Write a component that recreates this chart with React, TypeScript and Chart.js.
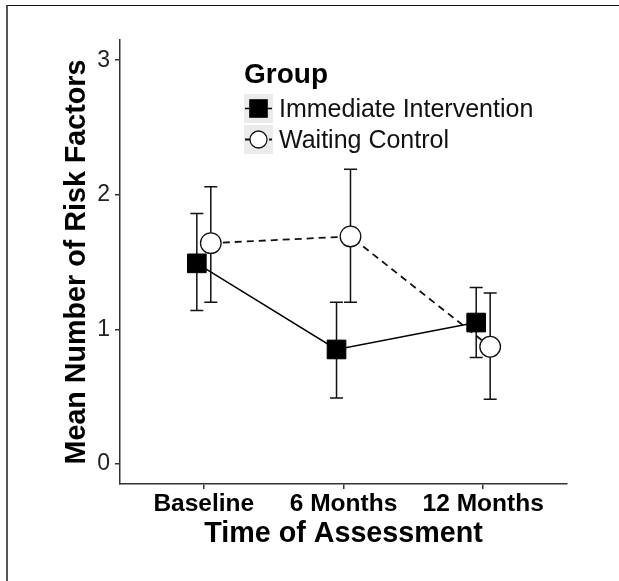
import React, { useEffect, useRef } from "react";
import { Chart, registerables } from "chart.js";

Chart.register(...registerables);

// ---- data ----
const timePoints = ["Baseline", "6 Months", "12 Months"];
const yTickValues = [0, 1, 2, 3];
const groupLabels = ["Immediate Intervention", "Waiting Control"];
const immediateMean = [1.49, 0.85, 1.05];
const immediateLower = [1.14, 0.49, 0.79];
const immediateUpper = [1.86, 1.2, 1.31];
const waitingMean = [1.64, 1.69, 0.87];
const waitingLower = [1.2, 1.2, 0.48];
const waitingUpper = [2.06, 2.19, 1.27];
const legendTitle = "Group";
const xTitle = "Time of Assessment";
const yTitle = "Mean Number of Risk Factors";
const dodge = 0.05;

const FONT = "'Liberation Sans', Arial, Helvetica, sans-serif";

const errorBarPlugin = {
  id: "errorBars",
  beforeDatasetsDraw(chart: any) {
    const ctx = chart.ctx;
    const xs = chart.scales.x;
    const ys = chart.scales.y;
    ctx.save();
    chart.data.datasets.forEach((ds: any) => {
      ctx.strokeStyle = "#111";
      ctx.lineWidth = 1.5;
      ds.data.forEach((pt: any, i: number) => {
        const px = xs.getPixelForValue(pt.x);
        const pLo = ys.getPixelForValue(ds.lower[i]);
        const pHi = ys.getPixelForValue(ds.upper[i]);
        const cap = 6.5;
        ctx.beginPath();
        ctx.moveTo(px, pLo);
        ctx.lineTo(px, pHi);
        ctx.moveTo(px - cap, pLo);
        ctx.lineTo(px + cap, pLo);
        ctx.moveTo(px - cap, pHi);
        ctx.lineTo(px + cap, pHi);
        ctx.stroke();
      });
    });
    ctx.restore();
  },
};

const legendPlugin = {
  id: "customLegend",
  afterDraw(chart: any) {
    const ctx = chart.ctx;
    ctx.save();
    ctx.fillStyle = "#000";
    ctx.font = `bold 28px ${FONT}`;
    ctx.textBaseline = "alphabetic";
    ctx.textAlign = "left";
    ctx.fillText(legendTitle, 244, 83);
    const boxX = 244;
    const boxSize = 29;
    chart.data.datasets.forEach((ds: any, i: number) => {
      const boxY = 94 + i * 31;
      const cx = boxX + boxSize / 2;
      const cy = boxY + boxSize / 2;
      ctx.fillStyle = "#ebebeb";
      ctx.fillRect(boxX, boxY, boxSize, boxSize);
      // line key
      ctx.strokeStyle = ds.borderColor;
      ctx.lineWidth = ds.borderWidth;
      ctx.setLineDash(ds.borderDash || []);
      ctx.beginPath();
      ctx.moveTo(boxX + 1, cy);
      ctx.lineTo(boxX + boxSize - 1, cy);
      ctx.stroke();
      ctx.setLineDash([]);
      // marker
      ctx.fillStyle = ds.pointBackgroundColor;
      ctx.strokeStyle = ds.pointBorderColor;
      ctx.lineWidth = ds.pointBorderWidth;
      if (ds.pointStyle === "rect") {
        const s = 17.5;
        ctx.fillRect(cx - s / 2, cy - s / 2, s, s);
        ctx.strokeRect(cx - s / 2, cy - s / 2, s, s);
      } else {
        ctx.beginPath();
        ctx.arc(cx, cy, 8.5, 0, Math.PI * 2);
        ctx.fill();
        ctx.stroke();
      }
      ctx.fillStyle = "#111";
      ctx.font = `25px ${FONT}`;
      ctx.fillText(ds.label, 279, cy + 8.8);
    });
    ctx.restore();
  },
};

export default function App() {
  const ref = useRef<HTMLCanvasElement | null>(null);

  useEffect(() => {
    if (!ref.current) return;
    const gridOpts = {
      display: true,
      drawOnChartArea: false,
      drawTicks: true,
      tickLength: 5,
      color: "#333",
      lineWidth: 1.5,
    };
    const borderOpts = { display: true, color: "#333", width: 1.5 };
    const chart = new Chart(ref.current, {
      type: "line",
      data: {
        datasets: [
          {
            label: groupLabels[0],
            data: immediateMean.map((y, i) => ({ x: i + 1 - dodge, y })),
            lower: immediateLower,
            upper: immediateUpper,
            borderColor: "#000",
            backgroundColor: "#000",
            borderWidth: 1.5,
            pointStyle: "rect",
            pointRadius: 13.2,
            pointBackgroundColor: "#000",
            pointBorderColor: "#000",
            pointBorderWidth: 1,
            tension: 0,
            fill: false,
          } as any,
          {
            label: groupLabels[1],
            data: waitingMean.map((y, i) => ({ x: i + 1 + dodge, y })),
            lower: waitingLower,
            upper: waitingUpper,
            borderColor: "#111",
            backgroundColor: "#fff",
            borderWidth: 1.8,
            borderDash: [7, 5],
            pointStyle: "circle",
            pointRadius: 10.3,
            pointBackgroundColor: "#fff",
            pointBorderColor: "#111",
            pointBorderWidth: 1.3,
            tension: 0,
            fill: false,
          } as any,
        ],
      },
      options: {
        responsive: false,
        animation: false,
        events: [],
        layout: { padding: { left: 0, top: 40, right: 52, bottom: 0 } },
        plugins: {
          legend: { display: false },
          tooltip: { enabled: false },
        },
        scales: {
          x: {
            type: "linear",
            min: 0.4,
            max: 3.6,
            afterBuildTicks: (s: any) => {
              s.ticks = timePoints.map((_, i) => ({ value: i + 1 }));
            },
            afterFit: (s: any) => {
              s.height = 97;
            },
            ticks: {
              callback: (_v: any, i: number) => timePoints[i],
              font: { family: FONT, size: 24.5, weight: "bold" },
              color: "#000",
              padding: 1,
              maxRotation: 0,
              autoSkip: false,
            },
            grid: gridOpts,
            border: borderOpts,
            title: {
              display: true,
              text: xTitle,
              font: { family: FONT, size: 28.7, weight: "bold" },
              color: "#000",
              padding: { top: 0, bottom: 30 },
            },
          },
          y: {
            type: "linear",
            min: -0.15,
            max: 3.15,
            afterBuildTicks: (s: any) => {
              s.ticks = yTickValues.map((v) => ({ value: v }));
            },
            afterFit: (s: any) => {
              s.width = 120;
            },
            ticks: {
              callback: (v: any) => String(v),
              font: { family: FONT, size: 23 },
              color: "#222",
              padding: 5,
            },
            grid: gridOpts,
            border: borderOpts,
            title: {
              display: true,
              text: yTitle,
              font: { family: FONT, size: 28.7, weight: "bold" },
              color: "#000",
              padding: { top: 59.5, bottom: 0 },
            },
          },
        },
      } as any,
      plugins: [errorBarPlugin, legendPlugin],
    });
    return () => chart.destroy();
  }, []);

  return (
    <div
      style={{
        position: "fixed",
        left: 0,
        top: 0,
        width: 619,
        height: 581,
        background: "#fff",
      }}
    >
      <canvas
        ref={ref}
        width={619}
        height={581}
        style={{ position: "absolute", left: 0, top: 0, width: 619, height: 581 }}
      />
      <div
        style={{
          position: "absolute",
          left: 6,
          top: 5,
          width: 613,
          height: 576,
          boxSizing: "border-box",
          borderLeft: "2px solid #555",
          borderTop: "1px solid #111",
          pointerEvents: "none",
        }}
      />
    </div>
  );
}
